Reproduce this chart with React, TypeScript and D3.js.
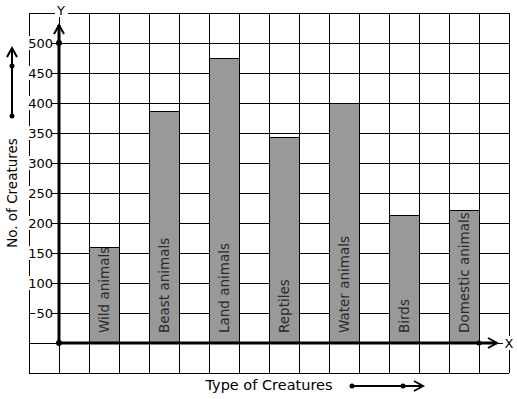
import React from 'react';
import * as d3 from 'd3';

const categories = ['Wild animals', 'Beast animals', 'Land animals', 'Reptiles', 'Water animals', 'Birds', 'Domestic animals'];
const values = [160, 386, 475, 343, 400, 213, 221];
const yTicks = [50, 100, 150, 200, 250, 300, 350, 400, 450, 500];

const W = 517;
const H = 399;
const font = 'DejaVu Sans, Verdana, sans-serif';

export default function App() {
  // one grid unit per 30px column, bars sit on every other column
  const x = d3.scaleLinear().domain([-1, 15]).range([29, 509]);
  const y = d3.scaleLinear().domain([-50, 550]).range([373, 13]);
  const colStep = x(1) - x(0);

  const gridX = d3.range(-1, 16);
  const gridY = d3.range(-50, 551, 50);

  const chevron = (px: number, py: number, dir: 'up' | 'right') =>
    dir === 'up'
      ? `M${px - 5},${py + 9} L${px},${py} L${px + 5},${py + 9}`
      : `M${px - 9},${py - 5} L${px},${py} L${px - 9},${py + 5}`;

  return (
    <svg width={W} height={H} style={{ position: 'absolute', left: 0, top: 0, background: '#fff' }}>
      {/* grid */}
      {gridX.map(g => (
        <line key={'gx' + g} x1={x(g)} x2={x(g)} y1={y(550)} y2={y(-50)} stroke="#000" strokeWidth={1} shapeRendering="crispEdges" />
      ))}
      {gridY.map(g => (
        <line key={'gy' + g} x1={x(-1)} x2={x(15)} y1={y(g)} y2={y(g)} stroke="#000" strokeWidth={1} shapeRendering="crispEdges" />
      ))}

      {/* bars */}
      {categories.map((c, i) => {
        const x0 = x(2 * i + 1);
        const top = y(values[i]);
        return (
          <g key={c}>
            <rect x={x0} y={top} width={colStep} height={y(0) - top} fill="#999" stroke="#000" strokeWidth={1} shapeRendering="crispEdges" />
            <text
              transform={`translate(${x0 + colStep / 2 + 5},${y(0) - 10}) rotate(-90)`}
              fontFamily={font}
              fontSize={13.5}
              fill="#2a2a2a"
            >{c}</text>
          </g>
        );
      })}

      {/* y tick labels with white backing */}
      {yTicks.map(t => {
        const label = String(t);
        const tw = label.length * 8.3;
        return (
          <g key={'yt' + t}>
            <rect x={x(0) - 7 - tw} y={y(t) - 7} width={tw + 1} height={14} fill="#fff" />
            <line x1={x(0) - 7} x2={x(0)} y1={y(t)} y2={y(t)} stroke="#000" strokeWidth={1} shapeRendering="crispEdges" />
            <text x={x(0) - 6} y={y(t) + 5} textAnchor="end" fontFamily={font} fontSize={13} fill="#000">{label}</text>
          </g>
        );
      })}

      {/* axes */}
      <line x1={x(0)} x2={x(0)} y1={y(0)} y2={25} stroke="#000" strokeWidth={3} />
      <path d={chevron(x(0), 25, 'up')} fill="none" stroke="#000" strokeWidth={2} />
      <line x1={x(0)} x2={497} y1={y(0)} y2={y(0)} stroke="#000" strokeWidth={3} />
      <path d={chevron(497, y(0), 'right')} fill="none" stroke="#000" strokeWidth={2} />
      <circle cx={x(0)} cy={y(0)} r={3} fill="#000" />
      <circle cx={x(0)} cy={y(500)} r={3} fill="#000" />
      <circle cx={x(14)} cy={y(0)} r={2.5} fill="#000" />

      {/* axis letters */}
      <rect x={55} y={3} width={13} height={14} fill="#fff" />
      <text x={61} y={15} textAnchor="middle" fontFamily={font} fontSize={13}>Y</text>
      <rect x={503} y={336} width={12} height={14} fill="#fff" />
      <text x={509} y={348} textAnchor="middle" fontFamily={font} fontSize={13}>X</text>

      {/* y title + arrow */}
      <text transform={`translate(17,${193}) rotate(-90)`} textAnchor="middle" fontFamily={font} fontSize={13.5}>No. of Creatures</text>
      <line x1={12} x2={12} y1={116} y2={50} stroke="#000" strokeWidth={2} />
      <path d={chevron(12, 48, 'up')} fill="none" stroke="#000" strokeWidth={2} />
      <circle cx={12} cy={116} r={2.5} fill="#000" />
      <circle cx={12} cy={66} r={2.5} fill="#000" />

      {/* x title + arrow */}
      <text x={269} y={390} textAnchor="middle" fontFamily={font} fontSize={14.5}>Type of Creatures</text>
      <line x1={352} x2={421} y1={386} y2={386} stroke="#000" strokeWidth={2} />
      <path d={chevron(423, 386, 'right')} fill="none" stroke="#000" strokeWidth={2} />
      <circle cx={352} cy={386} r={2.5} fill="#000" />
      <circle cx={403} cy={386} r={2.5} fill="#000" />
    </svg>
  );
}
